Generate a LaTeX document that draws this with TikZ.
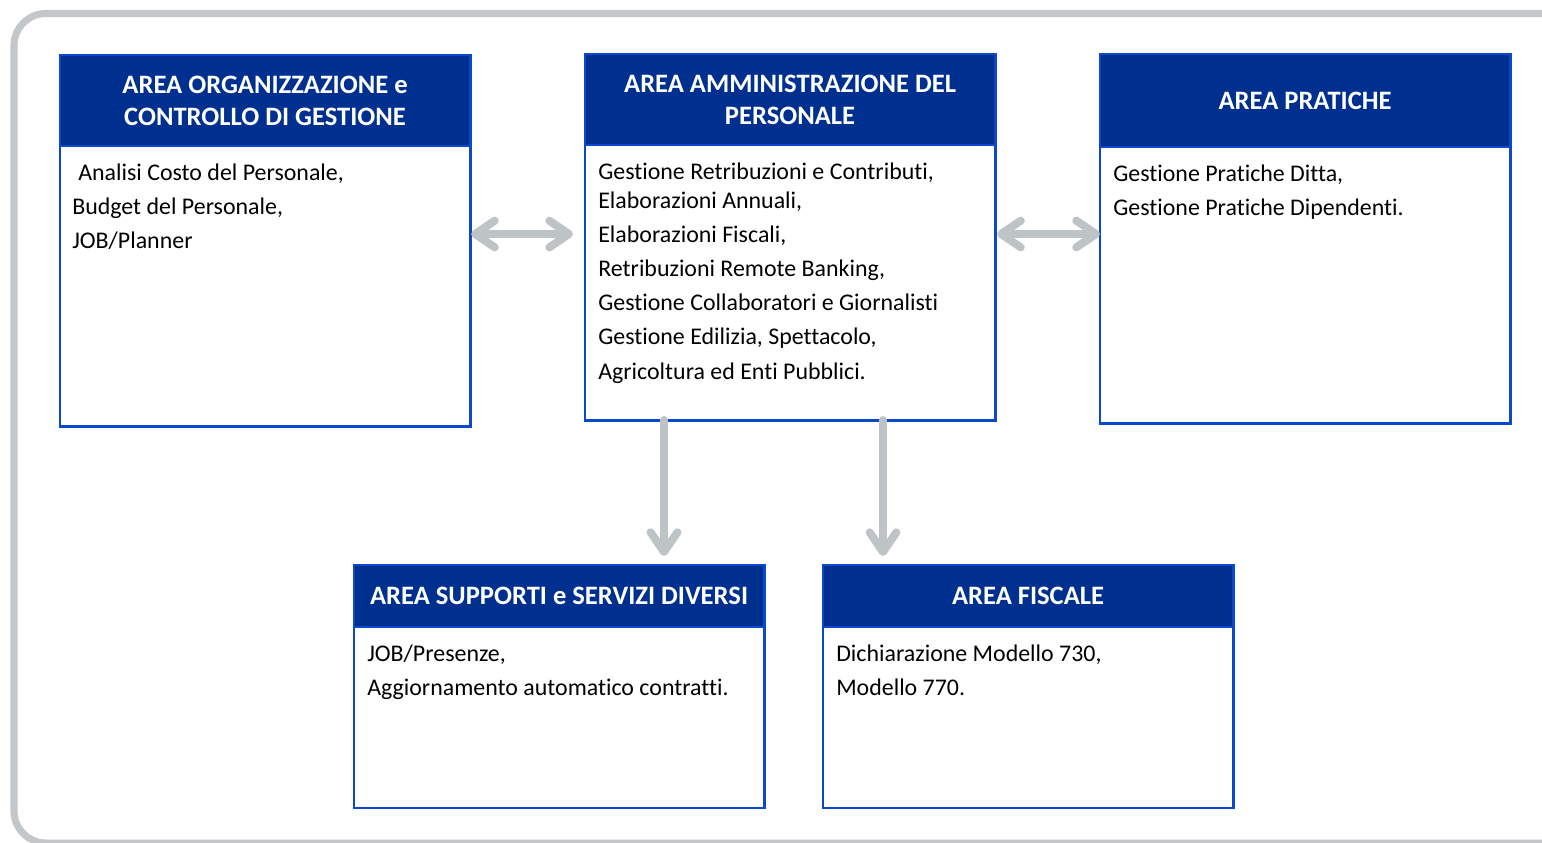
\documentclass[tikz,border=0pt]{standalone}
\usepackage{fontspec}
\setmainfont{Carlito}[Ligatures=NoCommon]
\usetikzlibrary{calc, positioning, arrows.meta}

\definecolor{areanavy}{RGB}{0,48,143}
\definecolor{areablue}{RGB}{10,72,205}
\definecolor{linkgray}{RGB}{190,195,197}
\definecolor{framegray}{RGB}{195,199,201}

\begin{document}
\begin{tikzpicture}[x=0.025cm, y=-0.025cm,
  areahead/.style={draw=areablue, fill=areanavy, line width=2pt, text=white,
    font=\fontsize{18.9}{22.8}\selectfont\bfseries, align=center,
    minimum width=10.25cm, minimum height=2.275cm, inner sep=0pt, outer sep=0pt},
  areabody/.style={draw=areablue, line width=2pt, minimum width=10.25cm,
    minimum height=7cm, inner sep=0pt, outer sep=0pt},
  areatext/.style={font=\fontsize{17}{24.2}\selectfont, align=left,
    inner sep=0pt, anchor=north west},
  link/.style={draw=linkgray, line width=5.7pt, line cap=round, line join=round,
    >={Straight Barb[length=14pt, width=19pt, round]}}]

  \useasboundingbox (0,0) rectangle (1542,842);
  \clip (0,0) rectangle (1542,842);

  % outer frame, cut on the right by the page
  \draw [framegray, line width=5pt, rounded corners=0.8cm]
    (14,13.5) rectangle (1575,843);

  % top row of areas
  \node [areahead, anchor=north west] (head1) at (60,55)
    {AREA ORGANIZZAZIONE e\\CONTROLLO DI GESTIONE};
  \node [areabody, below=0pt of head1] (body1) {};
  \node [areatext] (txt1) at ($(body1.north west)+(12,18)$)
    {\hspace*{0.25em}Analisi Costo del Personale,\\
     Budget del Personale,\\
     JOB/Planner};

  \node [areahead, anchor=north west] (head2) at (585,54)
    {AREA AMMINISTRAZIONE DEL\\PERSONALE};
  \node [areabody, below=0pt of head2, minimum height=6.875cm] (body2) {};
  \node [areatext] (txt2) at ($(body2.north west)+(13,18)$)
    {Gestione Retribuzioni e Contributi,\\[-3.6pt]
     Elaborazioni Annuali,\\
     Elaborazioni Fiscali,\\
     Retribuzioni Remote Banking,\\
     Gestione Collaboratori e Giornalisti\\
     Gestione Edilizia, Spettacolo,\\
     Agricoltura ed Enti Pubblici.};

  \node [areahead, anchor=north west, minimum height=2.325cm] (head3) at (1100,54)
    {AREA PRATICHE};
  \node [areabody, below=0pt of head3, minimum height=6.9cm] (body3) {};
  \node [areatext] (txt3) at ($(body3.north west)+(13,18)$)
    {Gestione Pratiche Ditta,\\
     Gestione Pratiche Dipendenti.};

  % bottom row of areas
  \node [areahead, anchor=north west, minimum height=1.55cm] (head4) at (354,565)
    {AREA SUPPORTI e SERVIZI DIVERSI};
  \node [areabody, below=0pt of head4, minimum height=4.525cm] (body4) {};
  \node [areatext] (txt4) at ($(body4.north west)+(13,18)$)
    {JOB/Presenze,\\
     Aggiornamento automatico contratti.};

  \node [areahead, anchor=north west, minimum height=1.55cm] (head5) at (823,565)
    {AREA FISCALE};
  \node [areabody, below=0pt of head5, minimum height=4.525cm] (body5) {};
  \node [areatext] (txt5) at ($(body5.north west)+(13,18)$)
    {Dichiarazione Modello 730,\\
     Modello 770.};

  % connections between areas
  \coordinate (side1) at ($(body1.north east)+(1,88)$);
  \coordinate (side2) at ($(body2.north east)+(2,89)$);
  \coordinate (drop1) at ($(body2.south west)+(79,0)$);
  \coordinate (drop2) at ($(body2.south west)+(298,0)$);

  \draw [link, <->, shorten >=0.3cm] (side1) -- (side1 -| body2.west);
  \draw [link, <->] (side2) -- (side2 -| body3.west);
  \draw [link, ->, shorten >=0.225cm] (drop1) -- (drop1 |- head4.north);
  \draw [link, ->, shorten >=0.225cm] (drop2) -- (drop2 |- head5.north);
\end{tikzpicture}
\end{document}
